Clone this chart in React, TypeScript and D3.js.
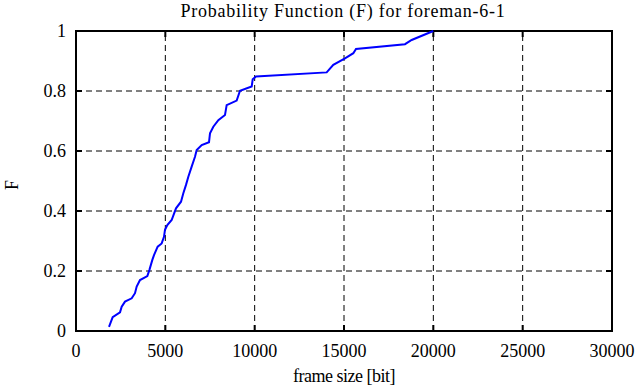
import React from "react";
import * as d3 from "d3";

const xTicks = [0, 5000, 10000, 15000, 20000, 25000, 30000];
const yTicks = [0, 0.2, 0.4, 0.6, 0.8, 1];
const frameSize = [1847, 2053, 2463, 2557, 2743, 3117, 3302, 3396, 3582, 3993, 4105, 4273, 4366, 4571, 4795, 4925, 4981, 5112, 5355, 5597, 5877, 6007, 6157, 6287, 6474, 6660, 6755, 7035, 7444, 7500, 7686, 7966, 8339, 8433, 8993, 9179, 9834, 9890, 10075, 14030, 14402, 15056, 15522, 15672, 18414, 18787, 19998];
const probF = [0.014, 0.046, 0.062, 0.081, 0.098, 0.109, 0.126, 0.148, 0.17, 0.183, 0.203, 0.237, 0.253, 0.281, 0.292, 0.314, 0.337, 0.353, 0.37, 0.409, 0.431, 0.459, 0.487, 0.514, 0.548, 0.581, 0.603, 0.62, 0.629, 0.659, 0.681, 0.703, 0.72, 0.753, 0.768, 0.801, 0.815, 0.839, 0.848, 0.862, 0.887, 0.909, 0.926, 0.94, 0.956, 0.97, 1.0];

const W = 639, H = 387;
const L = 76, R = 612, T = 31, B = 331;

export default function App() {
  const x = d3.scaleLinear().domain([0, 30000]).range([L, R]);
  const y = d3.scaleLinear().domain([0, 1]).range([B, T]);
  const pts: [number, number][] = frameSize.map((v, i) => [v, probF[i]]);
  const line = d3.line<[number, number]>().x(d => x(d[0])).y(d => y(d[1]));
  const font = "'Liberation Serif', 'DejaVu Serif', serif";
  const fs = 18;
  return (
    <svg width={W} height={H} style={{ position: "absolute", left: 0, top: 0, background: "#fff" }} fontFamily={font}>
      <rect x={0} y={0} width={W} height={H} fill="#fff" />
      {xTicks.slice(1, -1).map(t => (
        <line key={"gx" + t} x1={x(t)} x2={x(t)} y1={B} y2={T} stroke="#000" strokeWidth={1} strokeDasharray="6,4" />
      ))}
      {yTicks.slice(1, -1).map(t => (
        <line key={"gy" + t} x1={L} x2={R} y1={y(t)} y2={y(t)} stroke="#000" strokeWidth={1} strokeDasharray="6,4" />
      ))}
      {xTicks.map(t => (
        <g key={"tx" + t}>
          <line x1={x(t)} x2={x(t)} y1={B} y2={B - 6} stroke="#000" strokeWidth={2} />
          <line x1={x(t)} x2={x(t)} y1={T} y2={T + 6} stroke="#000" strokeWidth={2} />
          <text x={x(t)} y={357} textAnchor="middle" fontSize={fs}>{t}</text>
        </g>
      ))}
      {yTicks.map(t => (
        <g key={"ty" + t}>
          <line x1={L} x2={L + 6} y1={y(t)} y2={y(t)} stroke="#000" strokeWidth={2} />
          <line x1={R} x2={R - 6} y1={y(t)} y2={y(t)} stroke="#000" strokeWidth={2} />
          <text x={66} y={y(t) + 6} textAnchor="end" fontSize={fs}>{String(t)}</text>
        </g>
      ))}
      <rect x={L} y={T} width={R - L} height={B - T} fill="none" stroke="#000" strokeWidth={2} />
      <path d={line(pts) || ""} fill="none" stroke="#0000ff" strokeWidth={2} />
      <text x={343} y={17} textAnchor="middle" fontSize={fs} letterSpacing={0.75}>Probability Function (F) for foreman-6-1</text>
      <text x={344} y={382} textAnchor="middle" fontSize={fs} letterSpacing={-0.5}>frame size [bit]</text>
      <text transform="translate(18,185) rotate(-90)" textAnchor="middle" fontSize={fs}>F</text>
    </svg>
  );
}
